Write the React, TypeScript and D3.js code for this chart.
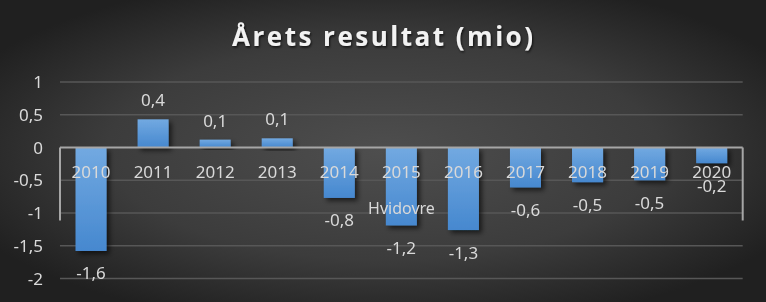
import React from "react";
import * as d3 from "d3";

const years = ["2010", "2011", "2012", "2013", "2014", "2015", "2016", "2017", "2018", "2019", "2020"];
const values = [-1.58, 0.43, 0.12, 0.14, -0.77, -1.19, -1.26, -0.61, -0.53, -0.5, -0.24];
const valueLabels = ["-1,6", "0,4", "0,1", "0,1", "-0,8", "-1,2", "-1,3", "-0,6", "-0,5", "-0,5", "-0,2"];
const yTicks = [1, 0.5, 0, -0.5, -1, -1.5, -2];
const yTickLabels = ["1", "0,5", "0", "-0,5", "-1", "-1,5", "-2"];
const title = "Årets resultat (mio)";
const annotation = "Hvidovre";

const W = 766;
const H = 302;
const FONT = "'Noto Sans', 'Open Sans', sans-serif";
const FS = 17;

export default function App() {
  const x = d3.scaleBand<string>().domain(years).range([60, 742.7]).paddingInner(0.5).paddingOuter(0.25);
  const y = d3.scaleLinear().domain([-2, 1]).range([278.5, 82]);
  const y0 = y(0);

  return (
    <div style={{ position: "fixed", left: 0, top: 0 }}>
      <svg width={W} height={H} style={{ display: "block" }}>
        <defs>
          <radialGradient id="bg" cx="50%" cy="50%" r="60%">
            <stop offset="0%" stopColor="#4e4e4e" />
            <stop offset="60%" stopColor="#3c3c3c" />
            <stop offset="100%" stopColor="#202020" />
          </radialGradient>
          <linearGradient id="bar" x1="0" y1="0" x2="0" y2="1">
            <stop offset="0%" stopColor="#72a9e1" />
            <stop offset="100%" stopColor="#4688cf" />
          </linearGradient>
          <filter id="shadow" x="-30%" y="-30%" width="160%" height="160%">
            <feDropShadow dx="3" dy="3" stdDeviation="2.5" floodColor="#000" floodOpacity="0.6" />
          </filter>
          <filter id="tshadow" x="-10%" y="-30%" width="120%" height="160%">
            <feDropShadow dx="1" dy="1.5" stdDeviation="1.2" floodColor="#000" floodOpacity="0.7" />
          </filter>
        </defs>
        <rect x={0} y={0} width={W} height={H} fill="url(#bg)" />
        <text
          x={382.5}
          y={46}
          textAnchor="middle"
          fill="#f2f2f2"
          fontFamily="'Open Sans', 'Noto Sans', sans-serif"
          fontWeight="bold"
          fontSize={26}
          textLength={301}
          lengthAdjust="spacing"
          filter="url(#tshadow)"
        >
          {title}
        </text>
        {yTicks.map((t, i) => (
          <g key={t}>
            {t !== 0 && (
              <line x1={60} x2={742.7} y1={y(t)} y2={y(t)} stroke="#575757" strokeWidth={1.5} />
            )}
            <text x={43} y={y(t) + 6} textAnchor="end" fill="#d9d9d9" fontFamily={FONT} fontSize={FS}>
              {yTickLabels[i]}
            </text>
          </g>
        ))}
        {years.map((yr, i) => {
          const v = values[i];
          const top = y(Math.max(0, v));
          const h = Math.abs(y(v) - y0);
          return (
            <rect key={yr} x={x(yr)} y={top} width={x.bandwidth()} height={h} fill="url(#bar)" filter="url(#shadow)" />
          );
        })}
        <line x1={60} x2={742.7} y1={y0} y2={y0} stroke="#a6a6a6" strokeWidth={2} />
        <line x1={60} x2={60} y1={y0} y2={220.5} stroke="#a6a6a6" strokeWidth={2} />
        <line x1={742.7} x2={742.7} y1={y0} y2={220.5} stroke="#a6a6a6" strokeWidth={2} />
        {years.map((yr, i) => {
          const cx = (x(yr) as number) + x.bandwidth() / 2;
          const v = values[i];
          const ly = v >= 0 ? y(v) - 13 : y(v) + 28.5;
          return (
            <g key={"l" + yr}>
              <text x={cx} y={177.5} textAnchor="middle" fill="#d9d9d9" fontFamily={FONT} fontSize={FS}>
                {yr}
              </text>
              <text x={cx} y={ly} textAnchor="middle" fill="#d9d9d9" fontFamily={FONT} fontSize={FS}>
                {valueLabels[i]}
              </text>
            </g>
          );
        })}
        <text x={401.5} y={214} textAnchor="middle" fill="#d9d9d9" fontFamily={FONT} fontSize={16}>
          {annotation}
        </text>
      </svg>
    </div>
  );
}
